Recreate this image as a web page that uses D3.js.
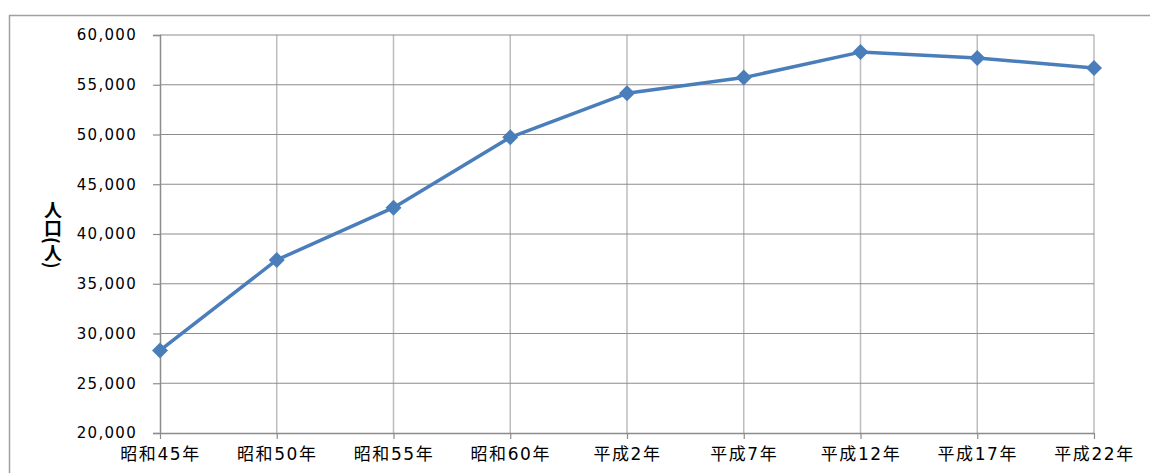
<!DOCTYPE html>
<html>
<head>
<meta charset="utf-8">
<script src="https://cdn.jsdelivr.net/npm/d3@7"></script>
<style>
  html, body { margin: 0; padding: 0; background: #fff; }
  svg { display: block; }
</style>
</head>
<body>
<svg id="chart" width="1150" height="473"></svg>
<script>
// Population by census year
const categories = ["昭和45年", "昭和50年", "昭和55年", "昭和60年", "平成2年", "平成7年", "平成12年", "平成17年", "平成22年"];
const population = [28300, 37390, 42650, 49720, 54140, 55720, 58280, 57690, 56680];
const yTicks = [20000, 25000, 30000, 35000, 40000, 45000, 50000, 55000, 60000];
const yLabel = "人口(人)";

const svg = d3.select("#chart");
const plot = { left: 160, right: 1094, top: 35, bottom: 433 };

// Frame around chart area
svg.append("path")
  .attr("d", `M9.5,473 V15.5 H1150`)
  .attr("fill", "none")
  .attr("stroke", "#a0a0a0")
  .attr("stroke-width", 1.5);

const x = d3.scalePoint().domain(categories).range([plot.left, plot.right]);
const y = d3.scaleLinear().domain([20000, 60000]).range([plot.bottom, plot.top]);

// Vertical grid lines
svg.append("g")
  .selectAll("line")
  .data(categories.slice(1))
  .join("line")
  .attr("x1", d => x(d)).attr("x2", d => x(d))
  .attr("y1", plot.top).attr("y2", plot.bottom)
  .attr("stroke", "#bdbdbd").attr("stroke-width", 1.5);

// Horizontal grid lines
svg.append("g")
  .selectAll("line")
  .data(yTicks.slice(1))
  .join("line")
  .attr("x1", plot.left).attr("x2", plot.right)
  .attr("y1", d => y(d)).attr("y2", d => y(d))
  .attr("stroke", "#8c8c8c").attr("stroke-width", 1.2);

// Y axis
const yAxis = svg.append("g")
  .attr("transform", `translate(${plot.left},0)`)
  .call(d3.axisLeft(y).tickValues(yTicks).tickFormat(d3.format(",")).tickSize(7).tickPadding(16));
yAxis.select(".domain").attr("stroke", "#8c8c8c").attr("stroke-width", 1.5);
yAxis.selectAll(".tick line").attr("stroke", "#8c8c8c").attr("stroke-width", 1.2);
yAxis.selectAll(".tick text")
  .attr("fill", "#000")
  .style("font-family", "'DejaVu Sans', Verdana, sans-serif")
  .style("font-size", "15px")
  .style("letter-spacing", "1.3px");

// X axis
const xAxis = svg.append("g")
  .attr("transform", `translate(0,${plot.bottom})`)
  .call(d3.axisBottom(x).tickSize(6).tickPadding(9).tickSizeOuter(0));
xAxis.select(".domain").attr("stroke", "#8c8c8c").attr("stroke-width", 1.5);
xAxis.selectAll(".tick line").attr("stroke", "#8c8c8c").attr("stroke-width", 1.2);
xAxis.selectAll(".tick text")
  .attr("fill", "#000")
  .style("font-family", "'DejaVu Sans', 'Noto Sans CJK JP', sans-serif")
  .style("font-size", "17px")
  .style("letter-spacing", "1.6px");

// Y axis title, set vertically
svg.append("text")
  .attr("x", 53)
  .attr("y", 201)
  .style("writing-mode", "vertical-rl")
  .style("font-family", "'Noto Sans CJK JP', sans-serif")
  .style("font-size", "18px")
  .style("font-weight", "bold")
  .attr("fill", "#000")
  .text(yLabel);

// Population line
const line = d3.line()
  .x((d, i) => x(categories[i]))
  .y(d => y(d));

svg.append("path")
  .datum(population)
  .attr("d", line)
  .attr("fill", "none")
  .attr("stroke", "#4a7ebb")
  .attr("stroke-width", 3.5)
  .attr("stroke-linejoin", "round");

// Diamond markers
const r = 8;
svg.append("g")
  .selectAll("path")
  .data(population)
  .join("path")
  .attr("transform", (d, i) => `translate(${x(categories[i])},${y(d)})`)
  .attr("d", `M0,${-r} L${r},0 L0,${r} L${-r},0 Z`)
  .attr("fill", "#4a7ebb");
</script>
</body>
</html>
